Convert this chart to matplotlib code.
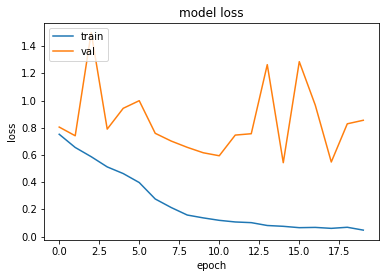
import matplotlib
matplotlib.use("Agg")
import matplotlib.pyplot as plt

epochs = list(range(20))
train_loss = [0.752, 0.655, 0.587, 0.512, 0.463, 0.397, 0.276, 0.213, 0.158, 0.137,
              0.119, 0.107, 0.102, 0.081, 0.075, 0.065, 0.067, 0.060, 0.068, 0.047]
val_loss = [0.805, 0.741, 1.500, 0.790, 0.943, 0.999, 0.759, 0.702, 0.656, 0.616,
            0.594, 0.746, 0.756, 1.264, 0.543, 1.286, 0.966, 0.548, 0.829, 0.855]

W, H = 386, 278
fig = plt.figure(figsize=(W / 72, H / 72), dpi=72)
ax = fig.add_axes([44 / W, 1 - 240 / H, (378.5 - 44) / W, (240 - 22.7) / H])
ax.plot(epochs, train_loss, label="train")
ax.plot(epochs, val_loss, label="val")
ax.set_title("model loss")
ax.set_xlabel("epoch")
ax.set_ylabel("loss")
ax.legend(loc="upper left")
fig.savefig("out.png", dpi=72)
